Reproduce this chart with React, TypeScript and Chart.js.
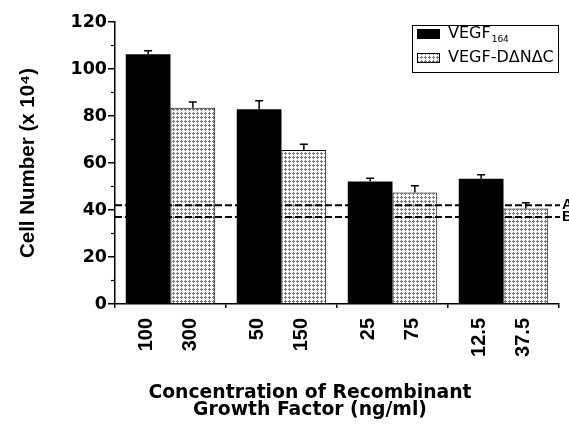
import React, { useEffect, useRef } from "react";
import { Chart, registerables } from "chart.js";

Chart.register(...registerables);

// ---- data ----
const categories = ["100 / 300", "50 / 150", "25 / 75", "12.5 / 37.5"];
const vegfDoseLabels = ["100", "50", "25", "12.5"];
const dnacDoseLabels = ["300", "150", "75", "37.5"];
const vegfValues = [106.3, 82.9, 52.1, 53.3];
const vegfErrors = [1.5, 3.6, 1.4, 1.7];
const dnacValues = [83.5, 65.5, 47.5, 40.6];
const dnacErrors = [2.5, 2.5, 2.8, 2.5];
const refLineLabels = ["A", "B"];
const refLineValues = [42, 37];
const legendMain = ["VEGF", "VEGF-D\u0394N\u0394C"];
const legendSub = ["164", ""];
const yMin = 0;
const yMax = 120;
const yStep = 20;
const yMinorTicks = [10, 30, 50, 70, 90, 110];
const yTitle = "Cell Number (x 10\u2074)";
const xTitleLines = ["Concentration of Recombinant", "Growth Factor (ng/ml)"];

function makeDotPattern(ctx: CanvasRenderingContext2D) {
  const c = document.createElement("canvas");
  c.width = 4;
  c.height = 4;
  const p = c.getContext("2d")!;
  p.fillStyle = "#ffffff";
  p.fillRect(0, 0, 4, 4);
  p.fillStyle = "#7a7a7a";
  p.fillRect(0, 1, 3, 1);
  p.fillRect(1, 0, 1, 3);
  return ctx.createPattern(c, "repeat")!;
}

export default function App() {
  const ref = useRef<HTMLCanvasElement | null>(null);

  useEffect(() => {
    document.body.style.margin = "0";
    const canvas = ref.current!;
    const ctx0 = canvas.getContext("2d")!;
    const dots = makeDotPattern(ctx0);

    const customDraw = {
      id: "customDraw",
      afterDatasetsDraw(chart: any) {
        const ctx = chart.ctx as CanvasRenderingContext2D;
        const y = chart.scales.y;
        const area = chart.chartArea;
        chart.data.datasets.forEach((ds: any, di: number) => {
          const meta = chart.getDatasetMeta(di);
          meta.data.forEach((bar: any, i: number) => {
            const top = y.getPixelForValue(ds.data[i] + ds.errors[i]);
            ctx.save();
            ctx.strokeStyle = "#000";
            ctx.lineWidth = 1.5;
            ctx.beginPath();
            ctx.moveTo(bar.x, bar.y);
            ctx.lineTo(bar.x, top);
            ctx.moveTo(bar.x - 4, top);
            ctx.lineTo(bar.x + 4, top);
            ctx.stroke();
            ctx.restore();

            ctx.save();
            ctx.translate(bar.x - 2, area.bottom + 14);
            ctx.rotate(-Math.PI / 2);
            ctx.font = 'bold 20px "Liberation Sans", Arial, sans-serif';
            ctx.textAlign = "right";
            ctx.textBaseline = "middle";
            ctx.fillStyle = "#000";
            ctx.fillText(ds.doseLabels[i], 0, 0);
            ctx.restore();
          });
        });

        // reference dashed lines
        refLineValues.forEach((v, i) => {
          const py = y.getPixelForValue(v);
          ctx.save();
          ctx.strokeStyle = "#000";
          ctx.lineWidth = 2;
          ctx.setLineDash([7, 3]);
          ctx.beginPath();
          ctx.moveTo(area.left, py);
          ctx.lineTo(area.right + 1, py);
          ctx.stroke();
          ctx.setLineDash([]);
          ctx.font = 'bold 15px "Liberation Sans", Arial, sans-serif';
          ctx.fillStyle = "#000";
          ctx.textAlign = "left";
          ctx.textBaseline = "middle";
          ctx.fillText(refLineLabels[i], area.right + 3, py);
          ctx.restore();
        });
      },
      afterDraw(chart: any) {
        const ctx = chart.ctx as CanvasRenderingContext2D;
        const y = chart.scales.y;
        const area = chart.chartArea;

        // minor y ticks
        ctx.save();
        ctx.strokeStyle = "#000";
        ctx.lineWidth = 1.2;
        yMinorTicks.forEach((v) => {
          const py = y.getPixelForValue(v);
          ctx.beginPath();
          ctx.moveTo(area.left - 4, py);
          ctx.lineTo(area.left, py);
          ctx.stroke();
        });
        ctx.restore();

        // x title
        ctx.save();
        ctx.font = 'bold 18.8px "DejaVu Sans", sans-serif';
        ctx.fillStyle = "#000";
        ctx.textAlign = "center";
        ctx.textBaseline = "alphabetic";
        xTitleLines.forEach((t, i) => {
          ctx.fillText(t, area.left + 195, area.bottom + 94 + i * 17);
        });
        ctx.restore();

        // legend
        const lx = area.right - 147;
        const ly = 25;
        ctx.save();
        ctx.fillStyle = "#fff";
        ctx.fillRect(lx, ly, 146, 47);
        ctx.strokeStyle = "#000";
        ctx.lineWidth = 1;
        ctx.strokeRect(lx + 0.5, ly + 0.5, 146, 47);
        chart.data.datasets.forEach((ds: any, i: number) => {
          const sy = ly + 4 + i * 24;
          ctx.fillStyle = ds.backgroundColor;
          ctx.fillRect(lx + 5, sy, 23, 10);
          if (ds.borderWidth) {
            ctx.strokeStyle = "#000";
            ctx.lineWidth = 1;
            ctx.strokeRect(lx + 5.5, sy + 0.5, 22, 9);
          }
          ctx.fillStyle = "#000";
          ctx.textAlign = "left";
          ctx.textBaseline = "alphabetic";
          ctx.font = '16px "DejaVu Sans", sans-serif';
          const tx = lx + 36;
          const base = sy + 9;
          ctx.fillText(legendMain[i], tx, base);
          if (legendSub[i]) {
            const w = ctx.measureText(legendMain[i]).width;
            ctx.font = '9px "DejaVu Sans", sans-serif';
            ctx.fillText(legendSub[i], tx + w + 1, base + 4);
          }
        });
        ctx.restore();
      },
    };

    const chart = new Chart(canvas, {
      type: "bar",
      data: {
        labels: categories,
        datasets: [
          {
            label: "VEGF164",
            data: vegfValues,
            backgroundColor: "#000000",
            borderColor: "#000000",
            borderWidth: 0,
            categoryPercentage: 0.806,
            barPercentage: 1,
            errors: vegfErrors,
            doseLabels: vegfDoseLabels,
          } as any,
          {
            label: "VEGF-D\u0394N\u0394C",
            data: dnacValues,
            backgroundColor: dots as any,
            borderColor: "#000000",
            borderWidth: 1,
            categoryPercentage: 0.806,
            barPercentage: 1,
            errors: dnacErrors,
            doseLabels: dnacDoseLabels,
          } as any,
        ],
      },
      options: {
        responsive: false,
        animation: false,
        devicePixelRatio: 1,
        layout: { padding: { top: 22, right: 10, left: 0, bottom: 0 } },
        plugins: {
          legend: { display: false },
          tooltip: { enabled: false },
        },
        scales: {
          x: {
            type: "category",
            ticks: { display: false },
            grid: {
              offset: true,
              drawOnChartArea: false,
              drawTicks: true,
              tickLength: 4,
              color: "#000",
              lineWidth: 1.5,
            },
            border: { color: "#000", width: 1.5 },
            afterFit: (s: any) => {
              s.height = 123;
            },
          },
          y: {
            min: yMin,
            max: yMax,
            ticks: {
              stepSize: yStep,
              color: "#000",
              padding: 1,
              font: { family: '"DejaVu Sans", sans-serif', size: 17.5, weight: "bold" },
            },
            grid: {
              drawOnChartArea: false,
              drawTicks: true,
              tickLength: 7,
              color: "#000",
              lineWidth: 1.5,
            },
            border: { color: "#000", width: 1.5 },
            title: {
              display: true,
              text: yTitle,
              color: "#000",
              font: { family: '"Liberation Sans", Arial, sans-serif', size: 20.5, weight: "bold" },
              padding: { top: 16, bottom: 0 },
            },
            afterFit: (s: any) => {
              s.width = 115;
            },
          },
        },
      } as any,
      plugins: [customDraw],
    });

    return () => chart.destroy();
  }, []);

  return (
    <div style={{ width: 569, height: 427, background: "#fff" }}>
      <canvas ref={ref} width={569} height={427} style={{ display: "block" }} />
    </div>
  );
}
